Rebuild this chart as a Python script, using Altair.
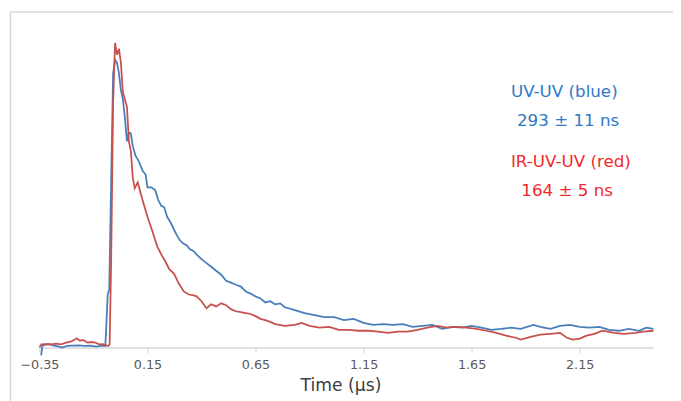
import altair as alt
import pandas as pd

# Time (µs) and signal (a.u.)
blue_t = [-0.342, -0.336, -0.318, -0.305, -0.282, -0.259, -0.245, -0.223, -0.2, -0.168, -0.141, -0.114, -0.086, -0.064, -0.045,
          -0.039, -0.034, -0.027, -0.018, -0.009, 0.0, 0.009, 0.018, 0.027, 0.036, 0.045, 0.055, 0.064, 0.073, 0.082, 0.095,
          0.109, 0.127, 0.141, 0.15, 0.168, 0.186, 0.2, 0.214, 0.227, 0.241, 0.255, 0.268, 0.286, 0.3, 0.314, 0.332, 0.345,
          0.364, 0.377, 0.4, 0.423, 0.445, 0.468, 0.491, 0.514, 0.536, 0.559, 0.582, 0.605, 0.627, 0.65, 0.673, 0.695, 0.718,
          0.741, 0.764, 0.786, 0.832, 0.877, 0.923, 0.968, 1.014, 1.059, 1.105, 1.15, 1.195, 1.241, 1.286, 1.332, 1.377,
          1.423, 1.468, 1.514, 1.559, 1.605, 1.65, 1.695, 1.741, 1.786, 1.832, 1.877, 1.936, 1.968, 2.014, 2.059, 2.105,
          2.15, 2.195, 2.241, 2.286, 2.332, 2.377, 2.423, 2.459, 2.491]
blue_v = [-0.026, 0.006, 0.01, 0.011, 0.006, 0.003, 0.0, 0.005, 0.006, 0.007, 0.005, 0.006, 0.003, 0.006, 0.005,
          0.097, 0.174, 0.19, 0.55, 0.9, 0.945, 0.935, 0.9, 0.845, 0.816, 0.758, 0.677, 0.706, 0.703, 0.661, 0.629,
          0.613, 0.581, 0.568, 0.526, 0.526, 0.516, 0.484, 0.465, 0.461, 0.429, 0.413, 0.394, 0.368, 0.352, 0.342, 0.335, 0.323,
          0.316, 0.306, 0.29, 0.277, 0.265, 0.252, 0.239, 0.219, 0.213, 0.206, 0.2, 0.184, 0.177, 0.168, 0.161, 0.148, 0.152,
          0.142, 0.145, 0.132, 0.123, 0.113, 0.106, 0.1, 0.1, 0.09, 0.094, 0.081, 0.074, 0.077, 0.074, 0.077, 0.068,
          0.071, 0.074, 0.061, 0.068, 0.065, 0.071, 0.065, 0.058, 0.061, 0.065, 0.061, 0.074, 0.068, 0.061, 0.071, 0.074,
          0.068, 0.065, 0.068, 0.058, 0.055, 0.061, 0.055, 0.065, 0.061]

red_t = [-0.35, -0.341, -0.318, -0.295, -0.273, -0.25, -0.227, -0.205, -0.186, -0.177, -0.164, -0.145, -0.127, -0.109,
         -0.091, -0.073, -0.055, -0.032, -0.025, -0.018, -0.009, 0.0, 0.009, 0.018, 0.027, 0.036, 0.045, 0.055, 0.064,
         0.073, 0.082, 0.091, 0.105, 0.127, 0.15, 0.173, 0.195, 0.218, 0.232, 0.25, 0.273, 0.295, 0.318, 0.341, 0.364,
         0.377, 0.4, 0.423, 0.445, 0.468, 0.491, 0.514, 0.536, 0.559, 0.582, 0.605, 0.627, 0.65, 0.673, 0.695, 0.718,
         0.741, 0.786, 0.832, 0.864, 0.9, 0.945, 0.991, 1.036, 1.082, 1.127, 1.173, 1.218, 1.264, 1.309, 1.355, 1.4,
         1.445, 1.491, 1.536, 1.582, 1.627, 1.673, 1.718, 1.764, 1.809, 1.855, 1.877, 1.923, 1.968, 2.014, 2.059, 2.091,
         2.118, 2.15, 2.182, 2.218, 2.255, 2.309, 2.355, 2.409, 2.445, 2.491]
red_v = [0.0, 0.01, 0.011, 0.01, 0.013, 0.01, 0.016, 0.019, 0.026, 0.03, 0.023, 0.024, 0.016, 0.018,
         0.016, 0.01, 0.011, 0.005, 0.01, 0.29, 0.806, 1.0, 0.961, 0.981, 0.935, 0.839, 0.816, 0.79, 0.677,
         0.645, 0.558, 0.523, 0.542, 0.484, 0.429, 0.381, 0.332, 0.3, 0.284, 0.258, 0.242, 0.21, 0.184, 0.174, 0.171,
         0.168, 0.152, 0.129, 0.142, 0.135, 0.145, 0.139, 0.126, 0.119, 0.116, 0.113, 0.11, 0.103, 0.094, 0.09, 0.084,
         0.077, 0.071, 0.074, 0.081, 0.071, 0.065, 0.068, 0.058, 0.058, 0.055, 0.055, 0.052, 0.048, 0.052, 0.052, 0.058,
         0.065, 0.071, 0.065, 0.068, 0.065, 0.061, 0.055, 0.048, 0.039, 0.032, 0.026, 0.035, 0.042, 0.045, 0.048, 0.032,
         0.026, 0.029, 0.039, 0.045, 0.055, 0.048, 0.045, 0.048, 0.052, 0.055]

tick_values = [-0.35, 0.15, 0.65, 1.15, 1.65, 2.15]

ann_text = ["UV-UV (blue)", "293 \u00b1 11 ns", "IR-UV-UV (red)", "164 \u00b1 5 ns"]
ann_t = [1.832, 1.860, 1.832, 1.880]
ann_v = [0.839, 0.742, 0.61, 0.513]
ann_series = ["blue", "blue", "red", "red"]

df = pd.concat([
    pd.DataFrame({"t": blue_t, "v": blue_v, "series": "UV-UV", "order": range(len(blue_t))}),
    pd.DataFrame({"t": red_t, "v": red_v, "series": "IR-UV-UV", "order": range(len(red_t))}),
])
ann = pd.DataFrame({"text": ann_text, "t": ann_t, "v": ann_v, "s": ann_series})

FONT = "DejaVu Sans"
xscale = alt.Scale(domain=[-0.35, 2.491], nice=False, zero=False)
yscale = alt.Scale(domain=[0, 1.032], nice=False, zero=False)

lines = alt.Chart(df).mark_line(strokeWidth=1.8).encode(
    x=alt.X("t:Q", scale=xscale,
            axis=alt.Axis(values=tick_values, format=".2f", title="Time (\u00b5s)",
                          grid=False, domainColor="#d9d9d9", domainWidth=1.5,
                          tickColor="#d9d9d9", tickSize=5, tickWidth=1.2,
                          labelFont=FONT, labelFontSize=13, labelColor="#595959", labelPadding=6,
                          labelFlush=False,
                          titleFont=FONT, titleFontSize=17.5, titleFontWeight="normal", titleColor="#404040",
                          titlePadding=6, titleX=306.5, titleAlign="center")),
    y=alt.Y("v:Q", scale=yscale, axis=None),
    color=alt.Color("series:N", scale=alt.Scale(domain=["UV-UV", "IR-UV-UV"], range=["#4a7ebb", "#c8504d"]),
                    legend=None),
    order="order:Q",
)

texts = alt.Chart(ann).mark_text(align="left", baseline="middle", font=FONT, fontSize=17).encode(
    x=alt.X("t:Q", scale=xscale),
    y=alt.Y("v:Q", scale=yscale),
    text="text:N",
    color=alt.Color("s:N", scale=alt.Scale(domain=["blue", "red"], range=["#2f78c6", "#f02a2a"]), legend=None),
)

frame_top = alt.Chart(pd.DataFrame({"a": [0]})).mark_rule(color="#d9d9d9", strokeWidth=1.5).encode(
    x=alt.value(-29.5), x2=alt.value(700), y=alt.value(-21.5))
frame_left = alt.Chart(pd.DataFrame({"a": [0]})).mark_rule(color="#d9d9d9", strokeWidth=1.5).encode(
    x=alt.value(-29.5), y=alt.value(-21.5), y2=alt.value(400))

chart = alt.layer(frame_top, frame_left, lines, texts).resolve_scale(color="independent").properties(
    width=625, height=320,
    padding={"left": 32, "top": 22, "right": 20, "bottom": 60},
    autosize=alt.AutoSizeParams(type="none"),
).configure_view(stroke=None)

chart.save("out.html", embed_options={"renderer": "svg", "actions": False})
